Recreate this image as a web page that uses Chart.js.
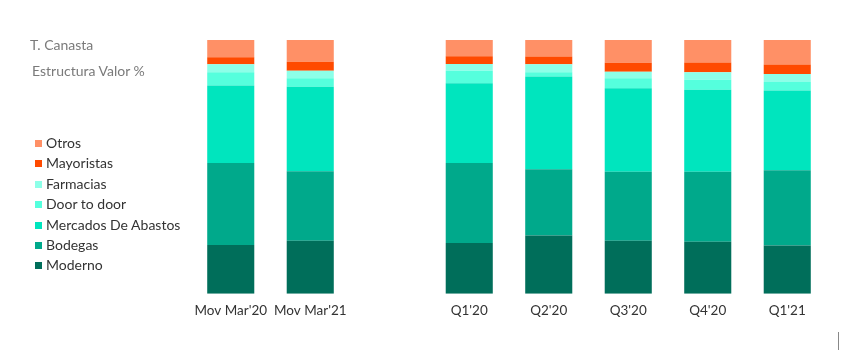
<!DOCTYPE html>
<html>
<head>
<meta charset="utf-8">
<script src="https://cdn.jsdelivr.net/npm/chart.js@4"></script>
<style>
  html, body { margin: 0; padding: 0; background: #fff; }
  #wrap { position: relative; width: 850px; height: 351px; overflow: hidden; font-family: Lato, "Open Sans", sans-serif; }
  canvas { position: absolute; left: 0; top: 0; }
  .title { position: absolute; color: #7a7a7a; font-size: 14px; white-space: nowrap; }
  #legend { position: absolute; left: 35px; top: 134px; }
  .li { height: 20.4px; line-height: 17px; font-size: 14px; color: #333; white-space: nowrap; }
  .sw { display: inline-block; width: 7px; height: 7px; margin-right: 4px; vertical-align: 1px; }
  #vline { position: absolute; left: 838px; top: 332px; width: 1px; height: 18px; background: #888; }
</style>
</head>
<body>
<div id="wrap">
  <canvas id="c" width="850" height="351"></canvas>
  <div class="title" style="left:30px; top:36px;">T. Canasta</div>
  <div class="title" style="left:32px; top:62px;">Estructura Valor %</div>
  <div id="legend"></div>
  <div id="vline"></div>
</div>
<script>
const categories = ["Mov Mar'20", "Mov Mar'21", "", "Q1'20", "Q2'20", "Q3'20", "Q4'20", "Q1'21"];
const moderno   = [19.2, 20.9, null, 20.0, 23.0, 20.9, 20.5, 19.0];
const bodegas   = [32.3, 27.4, null, 31.5, 26.1, 27.2, 27.6, 29.7];
const mercados  = [30.6, 33.3, null, 31.5, 36.5, 32.9, 32.3, 31.4];
const doorToDoor= [5.2, 3.3, null, 4.9, 1.7, 3.9, 3.9, 3.4];
const farmacias = [3.1, 3.0, null, 2.6, 3.1, 2.6, 3.0, 3.1];
const mayoristas= [2.8, 3.5, null, 3.1, 3.1, 3.5, 3.8, 3.7];
const otros     = [6.8, 8.6, null, 6.4, 6.5, 9.0, 8.9, 9.7];

const series = [
  { label: "Moderno", data: moderno, color: "#006E5A" },
  { label: "Bodegas", data: bodegas, color: "#00A98B" },
  { label: "Mercados De Abastos", data: mercados, color: "#00E5BE" },
  { label: "Door to door", data: doorToDoor, color: "#55FFDD" },
  { label: "Farmacias", data: farmacias, color: "#8DFFE8" },
  { label: "Mayoristas", data: mayoristas, color: "#FF4A00" },
  { label: "Otros", data: otros, color: "#FF9066" }
];

const lg = document.getElementById('legend');
series.slice().reverse().forEach(s => {
  const d = document.createElement('div');
  d.className = 'li';
  d.innerHTML = '<span class="sw" style="background:' + s.color + '"></span>' + s.label;
  lg.appendChild(d);
});

new Chart(document.getElementById('c'), {
  type: 'bar',
  data: {
    labels: categories,
    datasets: series.map(s => ({
      label: s.label,
      data: s.data,
      backgroundColor: s.color,
      borderWidth: 0,
      barPercentage: 0.592,
      categoryPercentage: 1.0
    }))
  },
  options: {
    responsive: false,
    devicePixelRatio: 1,
    animation: false,
    layout: { padding: { left: 191, right: 23, top: 40, bottom: 23 } },
    plugins: { legend: { display: false }, tooltip: { enabled: false } },
    scales: {
      x: {
        stacked: true,
        grid: { display: false, drawTicks: false },
        border: { display: false },
        ticks: { color: '#333', font: { family: 'Lato', size: 13.5 }, padding: 9, maxRotation: 0, autoSkip: false }
      },
      y: {
        stacked: true,
        display: false,
        min: 0,
        max: 100
      }
    }
  }
});
</script>
</body>
</html>
